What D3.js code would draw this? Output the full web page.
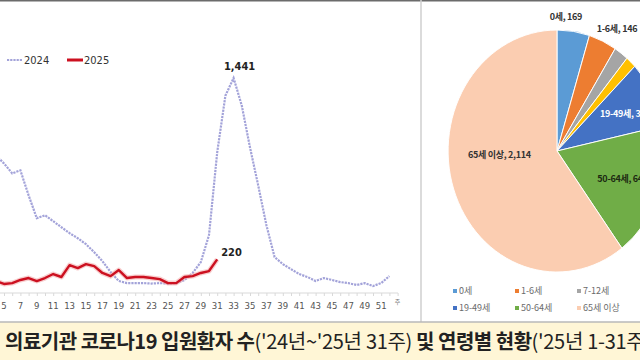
<!DOCTYPE html>
<html><head><meta charset="utf-8">
<script src="https://cdn.jsdelivr.net/npm/d3@7"></script>
<style>
html,body{margin:0;padding:0;background:#fff;}
svg{display:block;}
</style></head>
<body>
<svg id="c" width="640" height="360"></svg>
<script>
// ---------- data ----------
const weeks2024 = d3.range(4, 53);
const values2024 = [920,866,799,819,651,497,517,477,436,396,
  362,322,268,208,134,74,60,60,60,57,
  60,57,60,80,128,201,383,940,1322,1441,
  1255,973,718,450,235,188,154,121,101,74,
  94,81,67,60,47,60,40,60,107];
const weeks2025 = d3.range(4, 32);
const values2025 = [74,54,60,81,94,74,94,121,101,181,161,188,174,128,107,148,94,101,101,94,87,60,60,101,107,128,141,220];
const tickWeeks = d3.range(5, 52, 2);
const tickLabels = tickWeeks.map(String);
const seriesNames = ["2024", "2025"];

const ageGroups = ["0세","1-6세","7-12세","13-18세","19-49세","50-64세","65세 이상"];
const ageValues = [169,146,75,55,315,640,2114];
const ageLabels = ["0세, 169","1-6세, 146","","","19-49세, 315","50-64세, 640","65세 이상, 2,114"];
const legendGroups = ["0세","1-6세","7-12세","19-49세","50-64세","65세 이상"];

const titleParts = [
  {t:"의료기관 코로나19 입원환자 수", b:true},
  {t:"('24년~'25년 31주)", b:false},
  {t:" 및 연령별 현황", b:true},
  {t:"('25년 1-31주)", b:false}
];

// ---------- drawing ----------
const svg = d3.select("#c");
const KR = "'Noto Sans CJK KR','Noto Sans',sans-serif";
const NARROW = "'Liberation Sans Narrow','DejaVu Sans Condensed',sans-serif";

// frame
svg.append("rect").attr("x",0).attr("y",0).attr("width",640).attr("height",360).attr("fill","#fff");
svg.append("line").attr("x1",0).attr("x2",640).attr("y1",0.75).attr("y2",0.75).attr("stroke","#6b6b6b").attr("stroke-width",1.5);
svg.append("line").attr("x1",421).attr("x2",421).attr("y1",0).attr("y2",322).attr("stroke","#cfcfcf").attr("stroke-width",1.5);

// line chart
const x = d3.scaleLinear().domain([1,52]).range([-28.8, 389.4]);
const y = d3.scaleLinear().domain([0,1600]).range([292, 54.4]);

// axis
const axisG = svg.append("g").attr("transform","translate(0,293)");
const ax = d3.axisBottom(x).tickValues(d3.range(4,54)).tickSize(3).tickFormat("");
axisG.call(ax);
axisG.select(".domain").attr("stroke","#d9d9d9").attr("d","M0,0H398");
axisG.selectAll(".tick line").attr("stroke","#d9d9d9");
svg.append("g").selectAll("text").data(tickWeeks).join("text")
  .attr("x",d=>x(d)).attr("y",309)
  .attr("text-anchor","middle")
  .attr("font-family",NARROW).attr("font-size",9.5).attr("fill","#555")
  .text((d,i)=>tickLabels[i]);
svg.append("text").attr("x",x(53)).attr("y",304).attr("text-anchor","middle")
  .attr("font-family",KR).attr("font-size",6).attr("fill","#777").text("주");

const line = d3.line().x(d=>x(d[0])).y(d=>y(d[1]));
const d24 = weeks2024.map((w,i)=>[w,values2024[i]]);
const d25 = weeks2025.map((w,i)=>[w,values2025[i]]);

svg.append("path").attr("d",line(d24)).attr("fill","none")
  .attr("stroke","#a3a3d9").attr("stroke-width",2.2).attr("stroke-dasharray","2.2,1");
svg.append("path").attr("d",line(d25)).attr("fill","none")
  .attr("stroke","#f3a7a7").attr("stroke-width",5).attr("stroke-opacity",0.55).attr("stroke-linejoin","round");
svg.append("path").attr("d",line(d25)).attr("fill","none")
  .attr("stroke","#cc1020").attr("stroke-width",2.4).attr("stroke-linejoin","round");

// data labels
const peakI = values2024.indexOf(d3.max(values2024));
svg.append("text").attr("x",x(weeks2024[peakI])+6).attr("y",y(values2024[peakI])-8)
  .attr("text-anchor","middle").attr("font-family",NARROW).attr("font-weight","bold")
  .attr("font-size",11).attr("fill","#222").text(d3.format(",")(values2024[peakI]));
const lastI = values2025.length-1;
svg.append("text").attr("x",x(weeks2025[lastI])+4).attr("y",y(values2025[lastI])-3)
  .attr("text-anchor","start").attr("font-family",NARROW).attr("font-weight","bold")
  .attr("font-size",11).attr("fill","#222").text(d3.format(",")(values2025[lastI]));

// legend (line chart)
const legColors = ["#a3a3d9","#cc1020"];
const lg = svg.append("g").selectAll("g").data(seriesNames).join("g")
  .attr("transform",(d,i)=>`translate(${7+i*60},60)`);
lg.append("line").attr("x1",0).attr("x2",16).attr("y1",0).attr("y2",0)
  .attr("stroke",(d,i)=>legColors[i]).attr("stroke-width",(d,i)=>i?3:2)
  .attr("stroke-dasharray",(d,i)=>i?null:"2.2,1");
lg.append("text").attr("x",17).attr("y",4).attr("font-family",NARROW)
  .attr("font-size",11).attr("fill","#333").text(d=>d);

// pie
const pieColors = ["#5b9bd5","#ed7d31","#a5a5a5","#ffc000","#4472c4","#70ad47","#fbcdb1"];
const cx = 557, cy = 151, R = 121, sx = 0.9;
const pie = d3.pie().sort(null).value(d=>d)(ageValues);
const arc = d3.arc().innerRadius(0).outerRadius(R);
const pg = svg.append("g").attr("transform",`translate(${cx},${cy}) scale(${sx},1)`);
pg.selectAll("path").data(pie).join("path").attr("d",arc)
  .attr("fill",(d,i)=>pieColors[i]).attr("stroke","#fff").attr("stroke-width",1);

// pie labels
const labLayout = [
  {r:1.09, dx:-9, dy:-1, fill:"#333", anchor:"middle"},
  {r:1.09, dx:-10, dy:1, fill:"#333", anchor:"start"},
  null, null,
  {r:0.72, dx:-26, dy:7, fill:"#fff", anchor:"start"},
  {r:0.72, dx:-33, dy:0, fill:"#1d2a12", anchor:"start"},
  {r:0.5, dx:-6, dy:-12, fill:"#333", anchor:"middle"}
];
pie.forEach((p,i)=>{
  const L = labLayout[i]; if(!L || !ageLabels[i]) return;
  const a = (p.startAngle+p.endAngle)/2;
  const px = cx + Math.sin(a)*R*L.r*sx + L.dx;
  const py = cy - Math.cos(a)*R*L.r + L.dy;
  svg.append("text").attr("x",px).attr("y",py).attr("text-anchor",L.anchor)
    .attr("font-family",KR).attr("font-weight","bold").attr("font-size",9)
    .attr("letter-spacing",-0.3).attr("fill",L.fill).text(ageLabels[i]);
});

// pie legend
const pl = svg.append("g").selectAll("g").data(legendGroups).join("g")
  .attr("transform",(d,k)=>`translate(${453+(k%3)*62},${293+Math.floor(k/3)*17})`);
pl.append("rect").attr("x",0).attr("y",-4).attr("width",4).attr("height",4)
  .attr("fill",d=>pieColors[ageGroups.indexOf(d)]);
pl.append("text").attr("x",6).attr("y",1).attr("font-family",KR)
  .attr("font-size",9).attr("fill","#6a6a6a").text(d=>d);

// title bar
svg.append("rect").attr("x",0).attr("y",322).attr("width",640).attr("height",38).attr("fill","#fff6d6");
svg.append("line").attr("x1",0).attr("x2",640).attr("y1",322).attr("y2",322).attr("stroke","#b8b8b8").attr("stroke-width",1.5);
const tt = svg.append("text").attr("x",5).attr("y",349).attr("font-family",KR).attr("font-size",20).attr("fill","#222");
tt.selectAll("tspan").data(titleParts).join("tspan")
  .attr("font-weight",d=>d.b?"bold":"normal")
  .attr("font-size",d=>d.b?20:20)
  .attr("letter-spacing",d=>d.b?-0.5:-0.3)
  .text(d=>d.t);
</script>
</body></html>
